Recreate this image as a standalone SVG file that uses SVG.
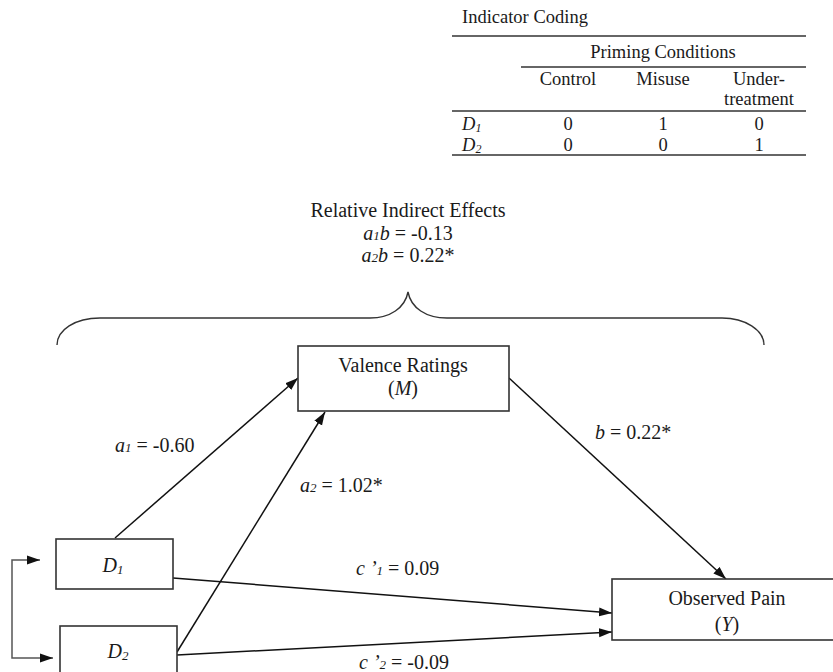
<svg xmlns="http://www.w3.org/2000/svg" width="833" height="672" viewBox="0 0 833 672" font-family="'Liberation Serif', 'DejaVu Serif', serif">
<style>
text{font-family:'Liberation Serif','DejaVu Serif',serif;fill:#1a1a1a;}
.t{font-size:18.5px;}
.m{font-size:20px;}
.c{text-anchor:middle;}
.i{font-style:italic;}
.box{fill:#fff;stroke:#333;stroke-width:1.6;}
.rule{stroke:#333;stroke-width:1.5;}
.edge{fill:none;stroke:#111;stroke-width:1.5;marker-end:url(#ah);}
</style>
<defs>
<marker id="ah" markerUnits="userSpaceOnUse" markerWidth="14" markerHeight="10" refX="13" refY="5" orient="auto">
<path d="M0,0.5 L13,5 L0,9.5 z" fill="#111"/>
</marker>
<marker id="ahs" markerUnits="userSpaceOnUse" markerWidth="14" markerHeight="10" refX="13" refY="5" orient="auto-start-reverse">
<path d="M0,0.5 L13,5 L0,9.5 z" fill="#111"/>
</marker>
</defs>
<rect width="833" height="672" fill="#fff"/>

<g id="table">
<text class="t" x="462" y="23">Indicator Coding</text>
<line class="rule" x1="452" y1="36" x2="806" y2="36"/>
<text class="t c" x="663" y="58">Priming Conditions</text>
<line class="rule" x1="521" y1="67" x2="806" y2="67"/>
<text class="t c" x="568" y="85">Control</text>
<text class="t c" x="663" y="85">Misuse</text>
<text class="t c" x="759" y="85">Under-</text>
<text class="t c" x="759" y="105">treatment</text>
<line class="rule" x1="452" y1="111" x2="806" y2="111"/>
<text class="t i" x="462" y="130">D<tspan font-size="12" dy="2">1</tspan></text>
<text class="t c" x="568" y="130">0</text>
<text class="t c" x="663" y="130">1</text>
<text class="t c" x="759" y="130">0</text>
<text class="t i" x="462" y="151">D<tspan font-size="12" dy="2">2</tspan></text>
<text class="t c" x="568" y="151">0</text>
<text class="t c" x="663" y="151">0</text>
<text class="t c" x="759" y="151">1</text>
<line class="rule" x1="452" y1="155" x2="806" y2="155"/>
</g>

<g id="indirect">
<text class="m c" x="408" y="217">Relative Indirect Effects</text>
<text class="m c" x="408" y="240"><tspan class="i">a</tspan><tspan class="i" font-size="13">1</tspan><tspan class="i">b</tspan> = -0.13</text>
<text class="m c" x="408" y="262"><tspan class="i">a</tspan><tspan class="i" font-size="13">2</tspan><tspan class="i">b</tspan> = 0.22*</text>
<path d="M57,345 C57,330 75,318 100,318 L370,318 C390,318 405,308 408,292 C411,308 426,318 447,318 L722,318 C745,318 764,330 764,345" fill="none" stroke="#333" stroke-width="1.4"/>
</g>

<g id="connectors">
<line class="edge" x1="115" y1="538" x2="298" y2="378"/>
<line class="edge" x1="177" y1="652" x2="325" y2="412"/>
<line class="edge" x1="509" y1="378" x2="726" y2="579"/>
<line class="edge" x1="173" y1="578" x2="612" y2="613"/>
<line class="edge" x1="177" y1="655" x2="612" y2="632"/>
<path d="M40,560 L12,560 L12,658 L53,658" fill="none" stroke="#555" stroke-width="1.5" marker-start="url(#ahs)" marker-end="url(#ah)"/>
<text class="m" x="115" y="452"><tspan class="i">a</tspan><tspan class="i" font-size="13">1</tspan> = -0.60</text>
<text class="m" x="300" y="492"><tspan class="i">a</tspan><tspan class="i" font-size="13">2</tspan> = 1.02*</text>
<text class="m" x="595" y="439"><tspan class="i">b</tspan> = 0.22*</text>
<text class="m" x="356" y="575"><tspan class="i">c</tspan><tspan class="i"> ’</tspan><tspan class="i" font-size="13">1</tspan> = 0.09</text>
<text class="m" x="359" y="669"><tspan class="i">c</tspan><tspan class="i"> ’</tspan><tspan class="i" font-size="13">2</tspan> = -0.09</text>
</g>

<g id="valence">
<rect class="box" x="298" y="346" width="211" height="65"/>
<text class="m c" x="403" y="372">Valence Ratings</text>
<text class="m c" x="403" y="395">(<tspan class="i">M</tspan>)</text>
</g>

<g id="d1">
<rect class="box" x="56" y="539" width="117" height="50"/>
<text class="m c i" x="113" y="572">D<tspan font-size="13" dy="2">1</tspan></text>
</g>

<g id="d2">
<rect class="box" x="60" y="626" width="117" height="60"/>
<text class="m c i" x="118" y="658">D<tspan font-size="13" dy="2">2</tspan></text>
</g>

<g id="pain">
<rect class="box" x="612" y="579" width="222" height="61"/>
<text class="m c" x="727" y="605">Observed Pain</text>
<text class="m c" x="727" y="631">(<tspan class="i">Y</tspan>)</text>
</g>
</svg>
